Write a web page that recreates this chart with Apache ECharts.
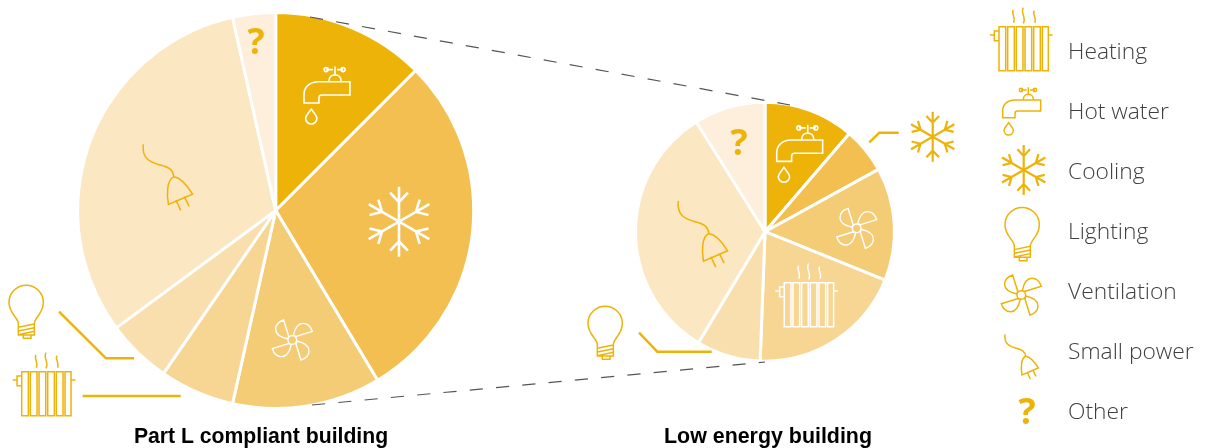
<!DOCTYPE html>
<html>
<head>
<meta charset="utf-8">
<style>html,body{margin:0;padding:0;background:#fff}#c{width:1205px;height:448px}</style>
<script src="https://cdn.jsdelivr.net/npm/echarts@6/dist/echarts.min.js"></script>
</head>
<body>
<div id="c"></div>
<script>
const categories = ['Hot water','Cooling','Ventilation','Heating','Lighting','Small power','Other'];
const partLValues = [12.5,28.9,12.1,6.1,5.3,31.6,3.5];
const lowEnergyValues = [11.3,5.7,14.1,19.5,8.0,32.5,8.9];
const sliceColors = ['#EEB308','#F3BF50','#F5CC76','#F7D694','#F9DFAE','#FBE7C2','#FDEFDC'];
const legendLabels = ['Heating','Hot water','Cooling','Lighting','Ventilation','Small power','Other'];
const chartTitles = ['Part L compliant building','Low energy building'];

const ORANGE = '#EEB308', WHITE = '#FFFFFF', TEXT = '#404040';

// icon outlines, in units of 1/3 px
function flake(){
  let d='';
  for(let i=0;i<6;i++){
    const a=i*Math.PI/3, c=Math.cos(a), s=Math.sin(a);
    const p=(x,y)=>(x*c-y*s).toFixed(1)+' '+(x*s+y*c).toFixed(1);
    d+='M0 0L'+p(0,-75)+'M'+p(-19,-62)+'L'+p(0,-42)+'L'+p(19,-62);
  }
  return d;
}
const iconPaths = {
  radiator:'M57 80H77V212H57ZM83 80H103V212H83ZM109 80H129V212H109ZM135 80H155V212H135ZM161 80H181V212H161ZM187 80H205V212H187ZM30 105H43M43 93H57V122H43ZM205 105H218M100 30C92 40 108 50 101 68M130 23C120 40 140 50 130 70M163 32C155 42 171 50 165 68',
  tap:'M68 353V332C68 312 84 300 104 300H182V333H112C106 333 105 337 105 341V353ZM130 298C130 278 160 278 160 298M145 262V285M123 270H140M150 270H165M118 270A5 5 0 1 0 128 270A5 5 0 1 0 118 270M160 270A5 5 0 1 0 170 270A5 5 0 1 0 160 270M86 368C78 380 72 384 72 391A14 14 0 0 0 100 391C100 384 94 380 86 368Z',
  flake:flake(),
  bulb:'M55 160C52 140 27 130 27 97A51 51 0 0 1 130 97C130 130 106 140 103 160V195H55ZM55 172L103 162M55 183L103 173M55 194L103 184M70 197V205H93V197',
  fan:'M-11 -12L-26 -60C-38 -56 -50 -46 -50 -32C-50 -18 -36 -8 -13 -3ZM12 -11L60 -26C56 -38 46 -50 32 -50C18 -50 8 -36 3 -13ZM11 12L26 60C38 56 50 46 50 32C50 18 36 8 13 3ZM-12 11L-60 26C-56 38 -46 50 -32 50C-18 50 -8 36 -3 13ZM-13 0A13 13 0 1 0 13 0A13 13 0 1 0 -13 0',
  plug:'M0 0C-3 28 12 36 34 42C50 46 60 50 62 66M51 122C47 100 48 72 62 66C76 68 90 85 100 101ZM66 113L76 134M83 106L93 126'
};
Object.keys(iconPaths).forEach(k=>echarts.graphic.registerShape('ic_'+k, echarts.graphic.extendPath(iconPaths[k])));

function icon(name,x,y,s,color,w){
  return {type:'ic_'+name,x:x,y:y,scaleX:s,scaleY:s,z:10,silent:true,
    style:{fill:null,stroke:color,lineWidth:w/s,lineJoin:'miter'}};
}
function seg(points,color,w,dash){
  return {type:'polyline',z:11,silent:true,shape:{points:points},
    style:{fill:null,stroke:color,lineWidth:w,lineDash:dash||null}};
}
function txt(t,x,y,size,color,font,weight,align){
  return {type:'text',x:x,y:y,z:12,silent:true,
    style:{text:t,fontSize:size,fontFamily:font,fontWeight:weight,fill:color,align:align||'left',verticalAlign:'middle'}};
}
const LEG_FONT = '"Open Sans"';
const legendY = [53,113,173,233,293,353,413];
const elements = [
  // connector lines
  seg([[310,17],[790,105]],'#555',1.2,[13.2,13.2]),
  seg([[312,405],[765,362]],'#555',1.2,[13.2,13.2]),
  seg([[59,311.7],[106,358.3],[134,358.3]],ORANGE,2.4),
  seg([[82.7,396],[180.7,396]],ORANGE,2.4),
  seg([[639,332.7],[657.3,351.7],[711.7,351.7]],ORANGE,2.4),
  seg([[869.3,142.3],[879.3,132.7],[898.7,132.7]],ORANGE,2.4),
  // legend icons
  icon('radiator',980,0,1/3,ORANGE,1.5),
  icon('tap',980,0,1/3,ORANGE,1.5),
  icon('flake',1023.7,170,1/3,ORANGE,2.2),
  icon('bulb',996,192.3,1/3,ORANGE,1.5),
  icon('fan',1021.3,295,1/3,ORANGE,1.5),
  icon('plug',1005,334.3,1/3,ORANGE,1.5),
  // left pie icons
  icon('tap',276.6,-39.2,0.403,WHITE,1.6),
  icon('flake',399,221.7,0.467,WHITE,2.6),
  icon('fan',292.3,340,1/3,WHITE,1.4),
  icon('plug',143.3,144.3,0.493,ORANGE,1.5),
  icon('bulb',0,270,1/3,ORANGE,1.5),
  icon('radiator',2.7,345,1/3,ORANGE,1.5),
  // right pie icons
  icon('tap',749.3,19.1,0.403,WHITE,1.6),
  icon('flake',932.7,136.7,1/3,ORANGE,2.2),
  icon('fan',856.7,228.3,1/3,WHITE,1.4),
  icon('radiator',765.3,256,1/3,WHITE,1.5),
  icon('plug',678.3,201,0.493,ORANGE,1.5),
  icon('bulb',579,291,1/3,ORANGE,1.5),
  // question marks
  txt('?',256.2,44,36,ORANGE,'"Open Sans"','bold','center'),
  txt('?',739,145,36,ORANGE,'"Open Sans"','bold','center'),
  txt('?',1027,413.5,36,ORANGE,'"Open Sans"','bold','center')
];
legendLabels.forEach((l,i)=>elements.push(txt(l,1068,legendY[i],22.8,TEXT,LEG_FONT,300)));

function pie(values,cx,cy,r){
  return {type:'pie',center:[cx,cy],radius:[0,r],startAngle:90,clockwise:true,silent:true,animation:false,
    label:{show:false},labelLine:{show:false},
    itemStyle:{borderColor:'#fff',borderWidth:3},
    data:values.map((v,i)=>({name:categories[i],value:v,itemStyle:{color:sliceColors[i]}}))};
}
const chart = echarts.init(document.getElementById('c'),null,{renderer:'canvas'});
chart.setOption({
  animation:false,
  backgroundColor:'#fff',
  title:[
    {text:chartTitles[0],left:256,top:422,textAlign:'center',textStyle:{fontFamily:'"Liberation Sans"',fontWeight:'bold',fontSize:21.2,color:'#000'}},
    {text:chartTitles[1],left:763,top:422,textAlign:'center',textStyle:{fontFamily:'"Liberation Sans"',fontWeight:'bold',fontSize:21.4,color:'#000'}}
  ],
  series:[pie(partLValues,275.7,210.5,198),pie(lowEnergyValues,765,231.7,129.5)],
  graphic:{elements:elements}
});
</script>
</body>
</html>
